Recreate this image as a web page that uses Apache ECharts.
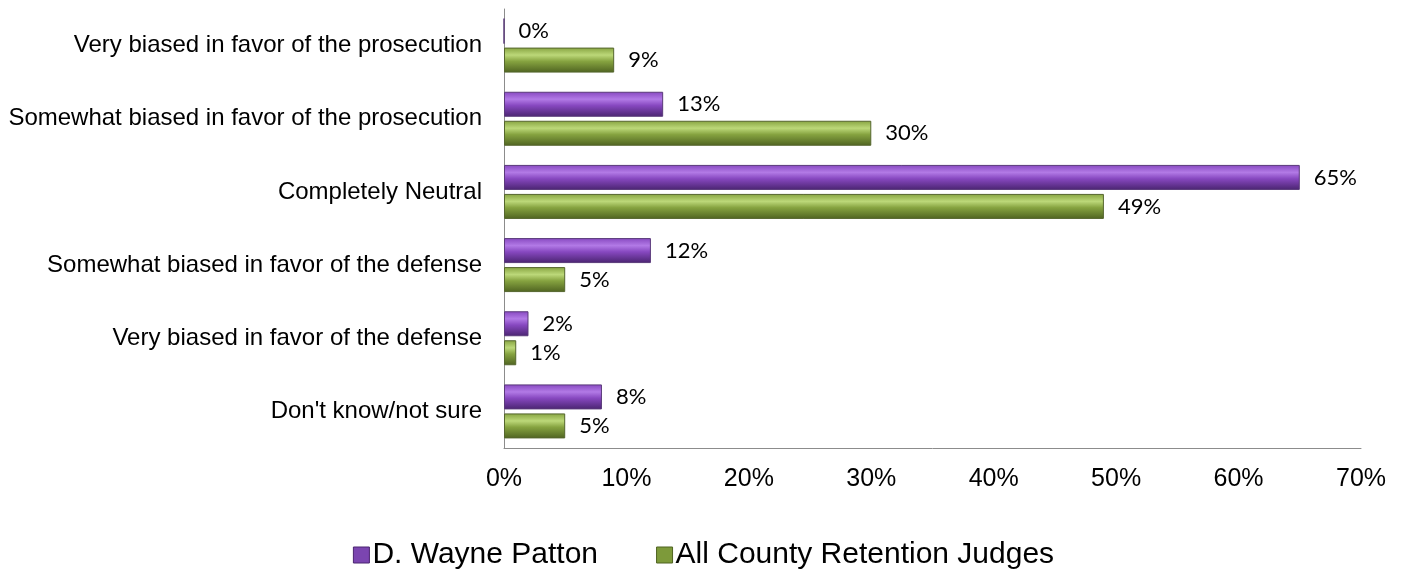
<!DOCTYPE html>
<html><head><meta charset="utf-8">
<script src="https://cdn.jsdelivr.net/npm/echarts@6/dist/echarts.min.js"></script>
<style>html,body{margin:0;padding:0;background:#fff}#c{width:1407px;height:575px}</style>
</head><body><div id="c"></div>
<script>
const categories = ["Very biased in favor of the prosecution","Somewhat biased in favor of the prosecution","Completely Neutral","Somewhat biased in favor of the defense","Very biased in favor of the defense","Don't know/not sure"];
const pattonValues = [0, 13, 65, 12, 2, 8];
const allJudgesValues = [9, 30, 49, 5, 1, 5];
const seriesNames = ["D. Wayne Patton", "All County Retention Judges"];

function grad(mid, light, deep){
  return new echarts.graphic.LinearGradient(0,0,0,1,[
    {offset:0,color:mid},{offset:0.3,color:light},{offset:0.55,color:mid},{offset:1,color:deep}]);
}
const purple = grad('#8748c0','#b27ae6','#4a2470');
const green = grad('#86a340','#bcd879','#4f6321');

const chart = echarts.init(document.getElementById('c'));
const labelStyle = {show:true, position:'right', distance:14, formatter:'{c}%', fontFamily:'Lato', fontSize:22, color:'#000'};
chart.setOption({
  animation:false,
  grid:{left:504, right:46, top:9, bottom:127, containLabel:false},
  legend:{
    top:535, left:'center', itemWidth:16, itemHeight:16, itemGap:58,
    textStyle:{fontFamily:'Liberation Sans', fontSize:30, color:'#000', padding:[0,0,0,-2]},
    data:[{name:seriesNames[0], icon:'rect', itemStyle:{color:'#7b45b0', borderColor:'#4a2470', borderWidth:1}},
          {name:seriesNames[1], icon:'rect', itemStyle:{color:'#7d9a3a', borderColor:'#4f6321', borderWidth:1}}]
  },
  xAxis:{type:'value', min:0, max:70, interval:10,
    axisLine:{show:true, lineStyle:{color:'#8c8c8c'}}, axisTick:{show:false}, splitLine:{show:false},
    axisLabel:{formatter:'{value}%', fontFamily:'Liberation Sans', fontSize:25, color:'#000', margin:19}},
  yAxis:{type:'category', inverse:true, data:categories,
    axisLine:{show:true, lineStyle:{color:'#8c8c8c'}}, axisTick:{show:false},
    axisLabel:{fontFamily:'Liberation Sans', fontSize:24, color:'#000', margin:22}},
  series:[
    {name:seriesNames[0], type:'bar', data:pattonValues, barWidth:25, barGap:'16%',
     itemStyle:{color:purple, borderColor:'#5a3a7a', borderWidth:1}, label:labelStyle},
    {name:seriesNames[1], type:'bar', data:allJudgesValues, barWidth:25, barGap:'16%',
     itemStyle:{color:green, borderColor:'#55662e', borderWidth:1}, label:labelStyle}
  ]
});
</script></body></html>
